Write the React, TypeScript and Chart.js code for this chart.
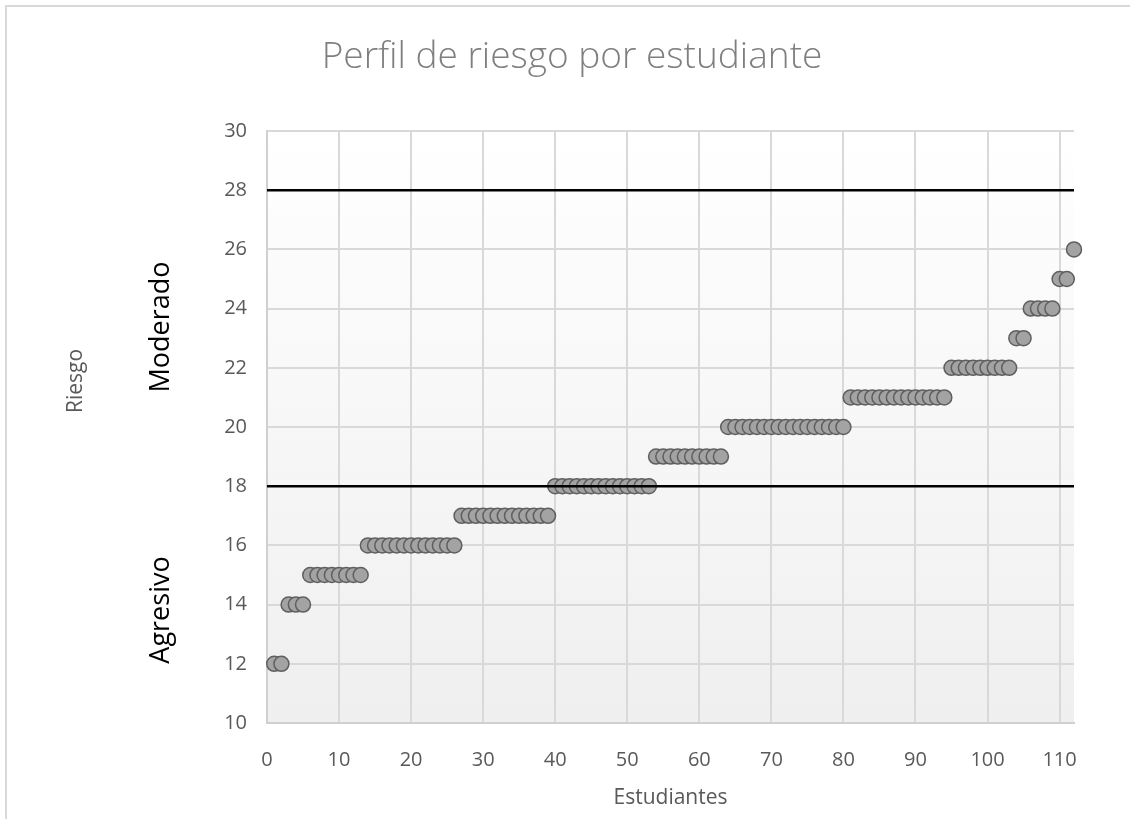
import React, { useEffect, useRef } from "react";
import { Chart, registerables } from "chart.js";

Chart.register(...registerables);

// Risk score of each student, ordered from lowest to highest
const riskScores: number[] = [
  12, 12,
  14, 14, 14,
  15, 15, 15, 15, 15, 15, 15, 15,
  16, 16, 16, 16, 16, 16, 16, 16, 16, 16, 16, 16, 16,
  17, 17, 17, 17, 17, 17, 17, 17, 17, 17, 17, 17, 17,
  18, 18, 18, 18, 18, 18, 18, 18, 18, 18, 18, 18, 18, 18,
  19, 19, 19, 19, 19, 19, 19, 19, 19, 19,
  20, 20, 20, 20, 20, 20, 20, 20, 20, 20, 20, 20, 20, 20, 20, 20, 20,
  21, 21, 21, 21, 21, 21, 21, 21, 21, 21, 21, 21, 21, 21,
  22, 22, 22, 22, 22, 22, 22, 22, 22,
  23, 23,
  24, 24, 24, 24,
  25, 25,
  26,
];

// Profile boundaries (risk score)
const thresholds: number[] = [28, 18];

// Profile names shown beside the y axis
const zoneNames: string[] = ["Moderado", "Agresivo"];

const xRange: number[] = [0, 112];
const yRange: number[] = [10, 30];

const FONT = "'Open Sans', 'Noto Sans', sans-serif";

export default function App() {
  const canvasRef = useRef<HTMLCanvasElement | null>(null);

  useEffect(() => {
    const canvas = canvasRef.current;
    if (!canvas) return;

    const points = riskScores.map((v, i) => ({ x: i + 1, y: v }));

    const decorations = {
      id: "decorations",
      beforeDraw(chart: any) {
        const { ctx, chartArea } = chart;
        ctx.save();
        // outer frame of the chart
        ctx.strokeStyle = "#d9d9d9";
        ctx.lineWidth = 2;
        ctx.beginPath();
        ctx.moveTo(6, 819);
        ctx.lineTo(6, 6);
        ctx.lineTo(1130, 6);
        ctx.stroke();
        // plot area fill
        const g = ctx.createLinearGradient(0, chartArea.top, 0, chartArea.bottom);
        g.addColorStop(0, "#ffffff");
        g.addColorStop(1, "#efefef");
        ctx.fillStyle = g;
        ctx.fillRect(chartArea.left, chartArea.top, chartArea.right - chartArea.left, chartArea.bottom - chartArea.top);
        ctx.restore();
      },
      afterDraw(chart: any) {
        const { ctx } = chart;
        // y axis title
        ctx.save();
        ctx.textAlign = "center";
        ctx.textBaseline = "middle";
        ctx.fillStyle = "#595959";
        ctx.font = `21px ${FONT}`;
        ctx.translate(76, 381);
        ctx.rotate(-Math.PI / 2);
        ctx.fillText("Riesgo", 0, 0);
        ctx.restore();

        // profile names
        const labelPos = [327, 610];
        zoneNames.forEach((name, i) => {
          ctx.save();
          ctx.fillStyle = "#000000";
          ctx.font = `27px ${FONT}`;
          ctx.textAlign = "center";
          ctx.textBaseline = "middle";
          ctx.translate(161, labelPos[i]);
          ctx.rotate(-Math.PI / 2);
          ctx.fillText(name, 0, 0);
          ctx.restore();
        });
      },
    };

    const lineSets = thresholds.map((t) => ({
      type: "line" as const,
      data: [
        { x: xRange[0], y: t },
        { x: xRange[1], y: t },
      ],
      borderColor: "#000000",
      borderWidth: 2.5,
      pointRadius: 0,
      fill: false,
      order: 0,
    }));

    const chart = new Chart(canvas, {
      type: "scatter",
      data: {
        datasets: [
          ...lineSets,
          {
            type: "scatter" as const,
            label: "Riesgo",
            data: points,
            backgroundColor: "#a3a3a3",
            borderColor: "#5f5f5f",
            borderWidth: 1.5,
            pointRadius: 7.5,
            pointHoverRadius: 7.5,
            clip: false as any,
            order: 1,
          },
        ] as any,
      },
      options: {
        animation: false,
        responsive: false,
        maintainAspectRatio: false,
        layout: { padding: { left: 70, right: 56, top: 0, bottom: 0 } },
        plugins: {
          legend: { display: false },
          tooltip: { enabled: false },
          title: {
            display: true,
            text: "Perfil de riesgo por estudiante",
            color: "#7f7f7f",
            font: { family: FONT, size: 37, weight: "300" as any, lineHeight: 1.2 },
            padding: { top: 35, bottom: 51.6 },
          },
        },
        scales: {
          x: {
            type: "linear",
            min: xRange[0],
            max: xRange[1],
            afterFit: (scale: any) => {
              scale.height = 96;
            },
            border: { display: true, color: "#d0d0d0", width: 2 },
            grid: { color: "#d9d9d9", lineWidth: 2, drawTicks: false },
            ticks: {
              stepSize: 10,
              includeBounds: false,
              padding: 25,
              color: "#595959",
              font: { family: FONT, size: 20 },
            },
            title: {
              display: true,
              text: "Estudiantes",
              color: "#595959",
              font: { family: FONT, size: 21 },
              padding: { top: 0, bottom: 8 },
            },
          },
          y: {
            type: "linear",
            min: yRange[0],
            max: yRange[1],
            afterFit: (scale: any) => {
              scale.width = 197;
            },
            border: { display: true, color: "#d0d0d0", width: 2 },
            grid: { color: "#d9d9d9", lineWidth: 2, drawTicks: false },
            ticks: {
              stepSize: 2,
              padding: 20,
              color: "#595959",
              font: { family: FONT, size: 20 },
            },
          },
        },
      },
      plugins: [decorations],
    });

    return () => chart.destroy();
  }, []);

  return (
    <div style={{ position: "fixed", left: 0, top: 0, width: 1130, height: 819, background: "#ffffff" }}>
      <canvas ref={canvasRef} width={1130} height={819} style={{ width: 1130, height: 819, display: "block" }} />
    </div>
  );
}
